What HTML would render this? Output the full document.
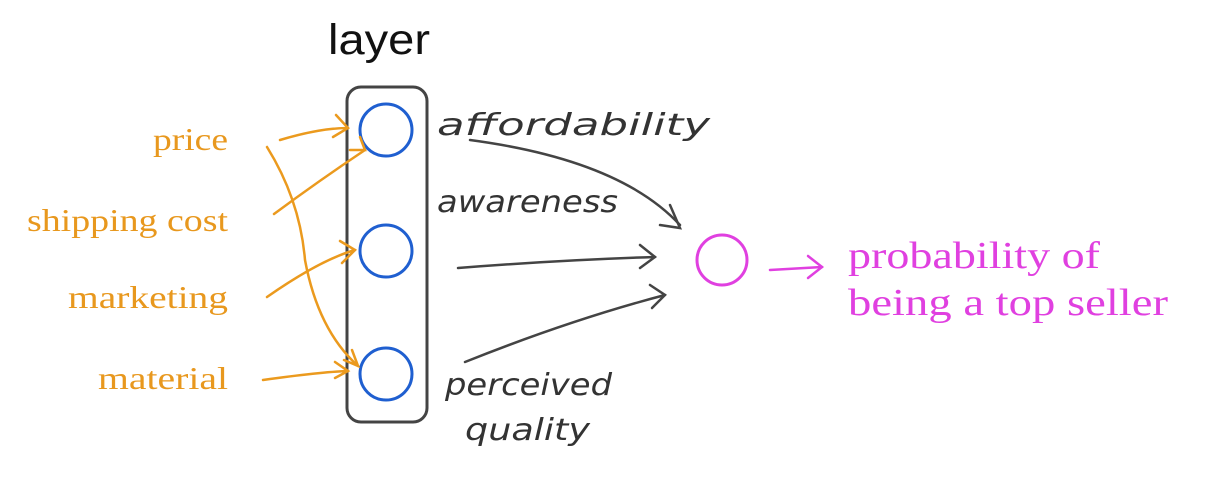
<!DOCTYPE html>
<html><head><style>
body{margin:0;background:#fff;width:1228px;height:490px;overflow:hidden}
</style></head><body>
<svg width="1228" height="490" xmlns="http://www.w3.org/2000/svg">
<text x="328" y="54" font-family="Liberation Sans, sans-serif" font-size="43" fill="#111" textLength="102" lengthAdjust="spacingAndGlyphs">layer</text>
<rect x="347" y="87" width="80" height="335" rx="14" fill="none" stroke="#444" stroke-width="3"/>
<g fill="none" stroke="#1f5fd0" stroke-width="3">
<circle cx="386" cy="130" r="26"/><circle cx="386" cy="251" r="26"/><circle cx="386" cy="374" r="26"/>
</g>
<g font-family="Liberation Serif, serif" font-size="32" fill="#e8981e" lengthAdjust="spacingAndGlyphs">
<text x="153" y="150" textLength="75" lengthAdjust="spacingAndGlyphs">price</text>
<text x="27" y="231" textLength="201" lengthAdjust="spacingAndGlyphs">shipping cost</text>
<text x="68" y="308" textLength="160" lengthAdjust="spacingAndGlyphs">marketing</text>
<text x="98" y="389" textLength="130" lengthAdjust="spacingAndGlyphs">material</text>
</g>
<g fill="none" stroke="#eb9a1e" stroke-width="2.5" stroke-linecap="round">
<path d="M280 140 Q320 128 348 128"/><path d="M336 115 L348 128 L333 137"/>
<path d="M274 214 Q320 180 365 150"/><path d="M350 150 L365 150 L360 137"/>
<path d="M267 297 Q320 260 355 250"/><path d="M340 241 L355 250 L342 263"/>
<path d="M263 380 Q320 372 348 371"/><path d="M335 362 L348 371 L335 378"/>
<path d="M267 147 Q300 200 305 260 Q318 330 358 366"/><path d="M352 350 L358 366 L344 360"/>
</g>
<g font-family="DejaVu Sans, sans-serif" font-size="30" fill="#333" font-style="italic">
<text x="437" y="135" textLength="273" lengthAdjust="spacingAndGlyphs">affordability</text>
<text x="437" y="212" textLength="181" lengthAdjust="spacingAndGlyphs">awareness</text>
<text x="445" y="395" textLength="167" lengthAdjust="spacingAndGlyphs">perceived</text>
<text x="465" y="440" textLength="125" lengthAdjust="spacingAndGlyphs">quality</text>
</g>
<g fill="none" stroke="#444" stroke-width="2.5" stroke-linecap="round">
<path d="M470 140 Q620 160 680 225"/><path d="M670 205 L680 228 L660 225"/>
<path d="M458 268 Q560 260 655 257"/><path d="M640 245 L655 257 L640 268"/>
<path d="M465 362 Q570 320 665 295"/><path d="M650 285 L665 295 L652 308"/>
</g>
<circle cx="722" cy="260" r="25" fill="none" stroke="#e040e0" stroke-width="3"/>
<g fill="none" stroke="#e040e0" stroke-width="2.5" stroke-linecap="round">
<path d="M770 270 L822 267"/><path d="M808 256 L822 267 L808 278"/>
</g>
<g font-family="Liberation Serif, serif" font-size="38" fill="#e040e0">
<text x="848" y="268" textLength="252" lengthAdjust="spacingAndGlyphs">probability of</text>
<text x="848" y="315" textLength="320" lengthAdjust="spacingAndGlyphs">being a top seller</text>
</g>
</svg>
</body></html>
